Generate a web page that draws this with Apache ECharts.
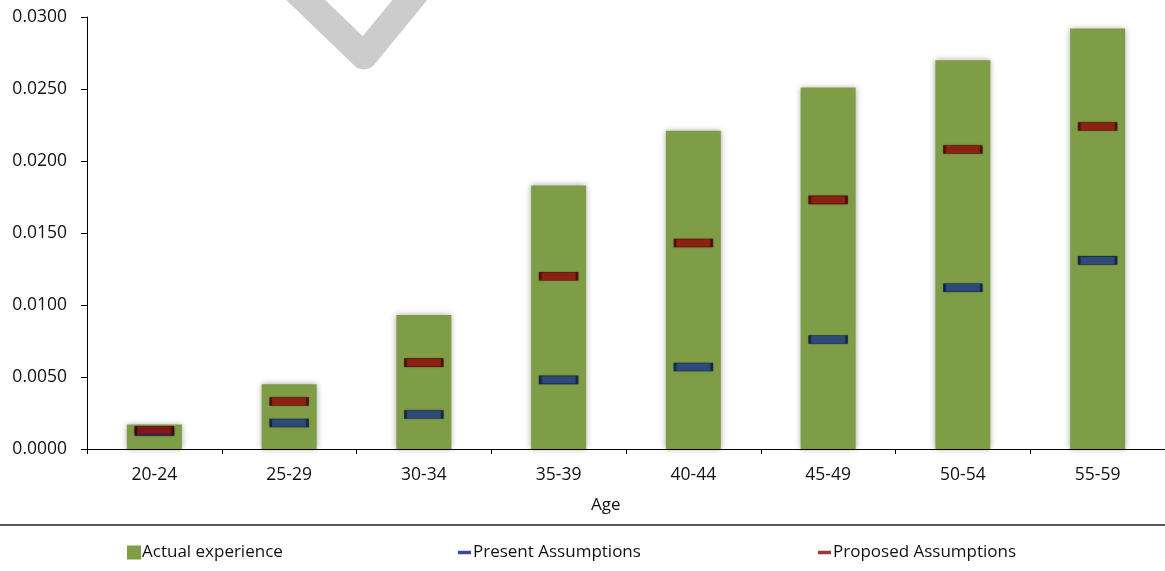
<!DOCTYPE html>
<html>
<head>
<meta charset="utf-8">
<script src="https://cdn.jsdelivr.net/npm/echarts@6/dist/echarts.min.js"></script>
<style>
html,body{margin:0;padding:0;background:#fff;}
#chart{width:1165px;height:571px;}
</style>
</head>
<body>
<div id="chart"></div>
<script>
const categories = ['20-24','25-29','30-34','35-39','40-44','45-49','50-54','55-59'];
const actualExperience = [0.0017, 0.0045, 0.0093, 0.0183, 0.0221, 0.0251, 0.0270, 0.0292];
const presentAssumptions = [0.0012, 0.0018, 0.0024, 0.0048, 0.0057, 0.0076, 0.0112, 0.0131];
const proposedAssumptions = [0.0013, 0.0033, 0.0060, 0.0120, 0.0143, 0.0173, 0.0208, 0.0224];
const seriesNames = ['Actual experience','Present Assumptions','Proposed Assumptions'];

const FONT = '"Open Sans", "Liberation Sans", sans-serif';
const chart = echarts.init(document.getElementById('chart'), null, {renderer:'canvas'});

const markerStyle = (fill, border) => ({
  color: fill, borderColor: border, borderWidth: 1.2,
  shadowBlur: 2, shadowColor: 'rgba(0,0,0,0.3)', shadowOffsetX: 0, shadowOffsetY: 0
});
const legendText = {fontFamily: FONT, fontSize: 17, color: '#111'};

chart.setOption({
  animation: false,
  backgroundColor: '#ffffff',
  grid: {left: 87, right: -7, top: 17, bottom: 122, containLabel: false},
  xAxis: {
    type: 'category',
    data: categories,
    axisLine: {lineStyle: {color: '#000', width: 1}},
    axisTick: {show: true, inside: false, length: 5, alignWithLabel: false, lineStyle: {color: '#000'}},
    axisLabel: {color: '#111', fontFamily: FONT, fontSize: 17.5, margin: 17},
    splitLine: {show: false}
  },
  yAxis: {
    type: 'value',
    min: 0, max: 0.03, interval: 0.005,
    axisLine: {show: true, lineStyle: {color: '#000', width: 1}},
    axisTick: {show: true, length: 6, lineStyle: {color: '#000'}},
    axisLabel: {color: '#111', fontFamily: FONT, fontSize: 17.5, margin: 20,
      formatter: v => v.toFixed(4)},
    splitLine: {show: false}
  },
  legend: [
    {left: 122, top: 539, itemWidth: 14, itemHeight: 14, itemGap: 4, icon: 'rect',
     itemStyle: {color: '#7f9d47', borderWidth: 0, shadowBlur: 0},
     data: [seriesNames[0]],
     textStyle: Object.assign({padding: [0,0,0,-4]}, legendText)},
    {left: 453, top: 539, itemWidth: 13, itemHeight: 3.5, icon: 'rect',
     itemStyle: {color: '#101c7c', borderWidth: 0, shadowBlur: 0},
     data: [seriesNames[1]],
     textStyle: Object.assign({padding: [0,0,0,-3]}, legendText)},
    {left: 813, top: 539, itemWidth: 13, itemHeight: 3.5, icon: 'rect',
     itemStyle: {color: '#7e0808', borderWidth: 0, shadowBlur: 0},
     data: [seriesNames[2]],
     textStyle: Object.assign({padding: [0,0,0,-3]}, legendText)}
  ],
  series: [
    {
      name: seriesNames[0], type: 'bar', data: actualExperience, barWidth: 55,
      itemStyle: {color: '#7f9d47', shadowBlur: 6, shadowColor: 'rgba(0,0,0,0.35)', shadowOffsetX: 0, shadowOffsetY: 0},
      z: 2
    },
    {
      name: seriesNames[1], type: 'scatter', data: presentAssumptions,
      symbol: 'rect', symbolSize: [37, 8],
      itemStyle: markerStyle('#20408c', '#0c1a44'), z: 3
    },
    {
      name: seriesNames[2], type: 'scatter', data: proposedAssumptions,
      symbol: 'rect', symbolSize: [37, 8],
      itemStyle: markerStyle('#990c0c', '#450404'), z: 4
    }
  ],
  graphic: [
    {type: 'polyline', shape: {points: [[290,-15],[364,56],[422,-15]]},
     style: {stroke: '#cccccc', lineWidth: 27, lineJoin: 'round', lineCap: 'butt', fill: null}, z: 1},
    {type: 'text', left: 591, top: 497, style: {text: 'Age', font: '17px ' + FONT, fill: '#111'}},
    {type: 'line', shape: {x1: 0, y1: 525, x2: 1165, y2: 525}, style: {stroke: '#222', lineWidth: 1.5}}
  ]
});
</script>
</body>
</html>
